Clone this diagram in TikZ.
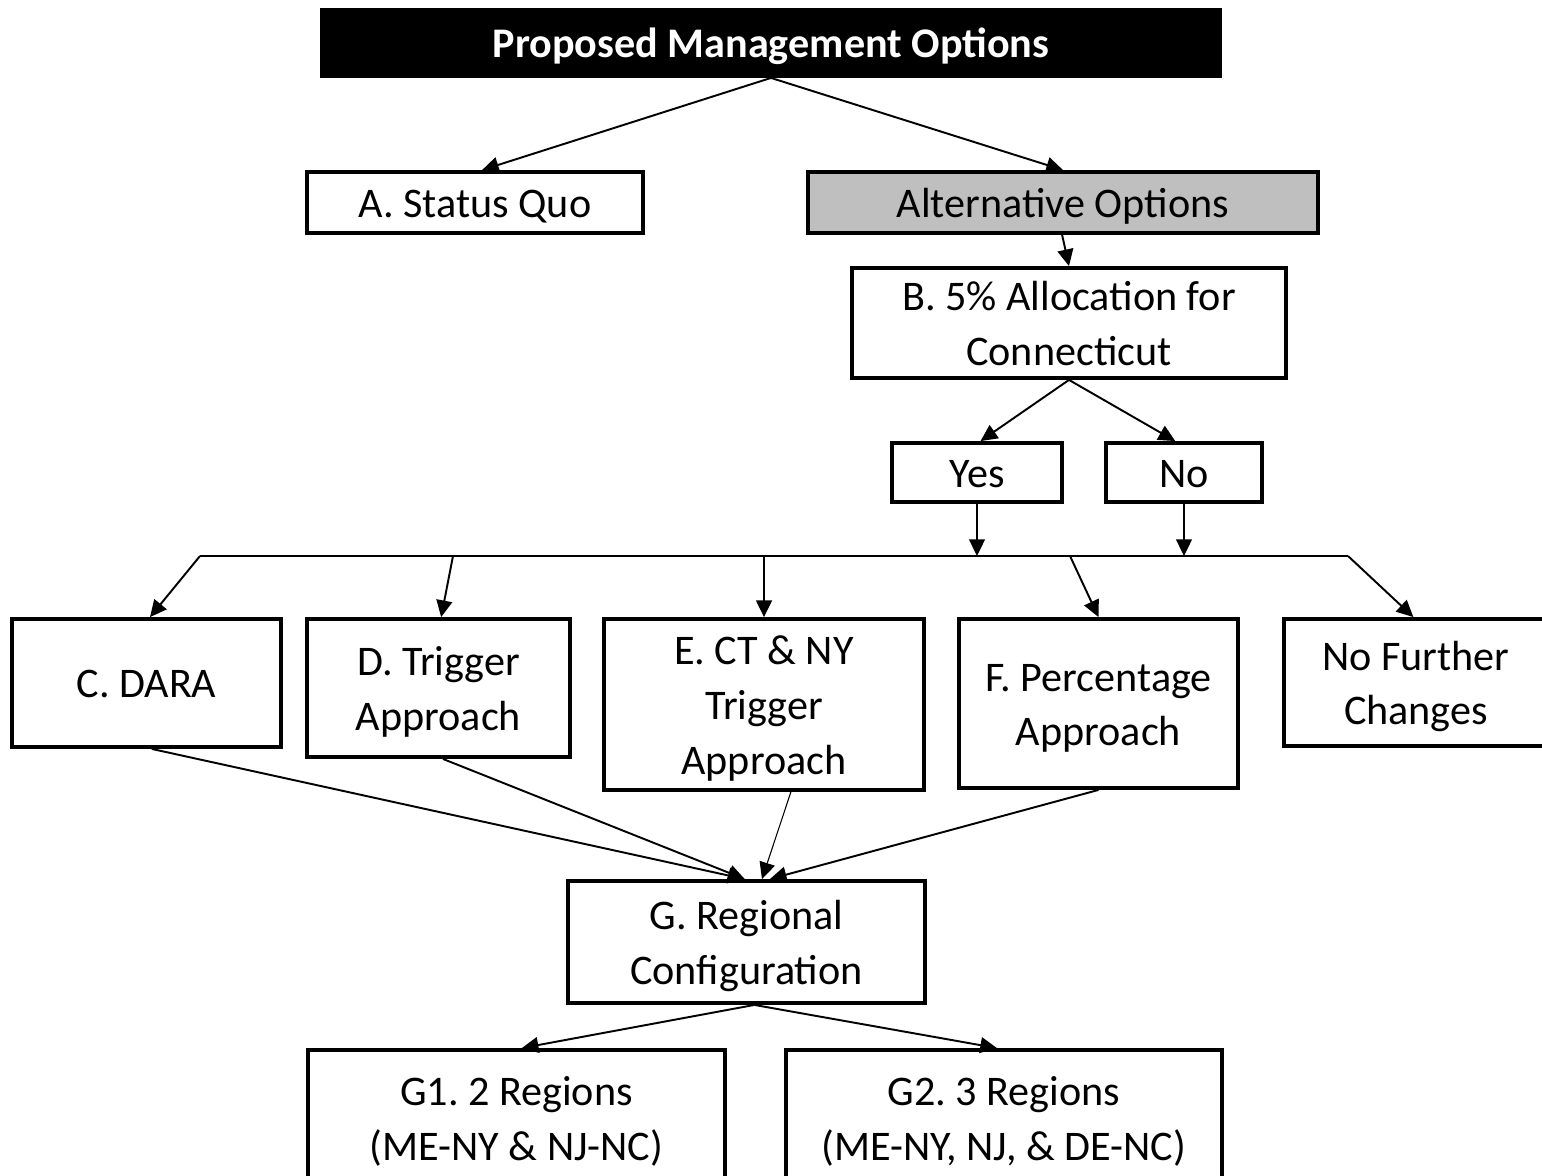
\documentclass[tikz,border=0pt]{standalone}
\usepackage{fontspec}
\setmainfont{Carlito}
\usetikzlibrary{arrows.meta}
\frenchspacing

\begin{document}
\begin{tikzpicture}[x=0.02cm, y=-0.02cm,
    main/.style = {draw, line width=2.2pt, align=center, inner sep=0pt, font=\fontsize{24}{31.2}\selectfont,
        text height=21pt, text depth=4pt},
    two/.style = {text height=52.2pt},
    three/.style = {text height=83.4pt},
    link/.style = {-{Triangle[length=9.5pt, width=9pt]}, line width=1.1pt}]
\useasboundingbox (0,0) rectangle (1542,1176);
% top of the tree
\node[main, fill=black, text=white, font=\bfseries\fontsize{24}{31.2}\selectfont, minimum width=17.96cm, minimum height=1.32cm] (top) at (771,43) {Proposed Management Options};
\node[main, minimum width=6.72cm, minimum height=1.22cm] (A) at (475,202.5) {A. Status Quo};
\node[main, fill={rgb,255:red,191;green,191;blue,191}, minimum width=10.2cm, minimum height=1.22cm] (alt) at (1063,202.5) {Alternative Options};
\node[main, two, minimum width=8.68cm, minimum height=2.2cm] (B) at (1069,323) {B. 5\% Allocation for\\Connecticut};
\node[main, minimum width=3.4cm, minimum height=1.18cm] (yes) at (977,472.5) {Yes};
\node[main, minimum width=3.12cm, minimum height=1.18cm] (no) at (1184,472.5) {No};
% second row
\node[main, minimum width=5.38cm, minimum height=2.56cm] (C) at (146.5,683) {C. DARA};
\node[main, two, minimum width=5.26cm, minimum height=2.76cm] (D) at (438.5,688) {D. Trigger\\Approach};
\node[main, three, minimum width=6.4cm, minimum height=3.42cm] (E) at (764,704.5) {E. CT \& NY\\Trigger\\Approach};
\node[main, two, minimum width=5.58cm, minimum height=3.38cm] (F) at (1098.5,703.5) {F. Percentage\\Approach};
\node[main, two, minimum width=5.28cm, minimum height=2.54cm] (nfc) at (1416,682.5) {No Further\\Changes};
% regions
\node[main, two, minimum width=7.14cm, minimum height=2.44cm] (G) at (746.5,942) {G. Regional\\Configuration};
\node[main, two, minimum width=8.34cm, minimum height=2.72cm] (G1) at (516.5,1118) {G1. 2 Regions\\(ME-NY \& NJ-NC)};
\node[main, two, minimum width=8.72cm, minimum height=2.72cm] (G2) at (1004,1118) {G2. 3 Regions\\(ME-NY, NJ, \& DE-NC)};
% bus line
\coordinate (busL) at (200,556);
\coordinate (busR) at (1348,556);
\coordinate (busD) at (453,556);
\coordinate (busF) at (1070,556);
\draw[line width=0.8pt] (busL) -- (busR);
% arrows
\draw[link] (top.south) -- ([xshift=4pt]A.north);
\draw[link] (top.south) -- (alt.north);
\draw[link] ([xshift=-0.5pt]alt.south) -- (B.north);
\draw[link] (B.south) -- ([xshift=2pt]yes.north);
\draw[link] (B.south) -- ([xshift=-5pt]no.north);
\draw[link] (yes.south) -- (yes.south |- busL);
\draw[link] (no.south) -- (no.south |- busL);
\draw[link] (busL) -- ([xshift=2pt]C.north);
\draw[link] (busD) -- ([xshift=1.5pt]D.north);
\draw[link] (E.north |- busL) -- (E.north);
\draw[link] (busF) -- (F.north);
\draw[link] (busR) -- ([xshift=-1.5pt]nfc.north);
\draw[link] ([xshift=3pt]C.south) -- ([xshift=-1pt]G.north);
\draw[link] ([xshift=2.5pt]D.south) -- ([xshift=-1pt]G.north);
\draw[link, line width=0.6pt] ([xshift=15.3pt]E.south) -- ([xshift=8.8pt]G.north);
\draw[link] (F.south) -- ([xshift=13.3pt]G.north);
\draw[link] ([xshift=4.5pt]G.south) -- ([xshift=3pt]G1.north);
\draw[link] ([xshift=4.5pt]G.south) -- ([xshift=-4pt]G2.north);
\end{tikzpicture}
\end{document}
